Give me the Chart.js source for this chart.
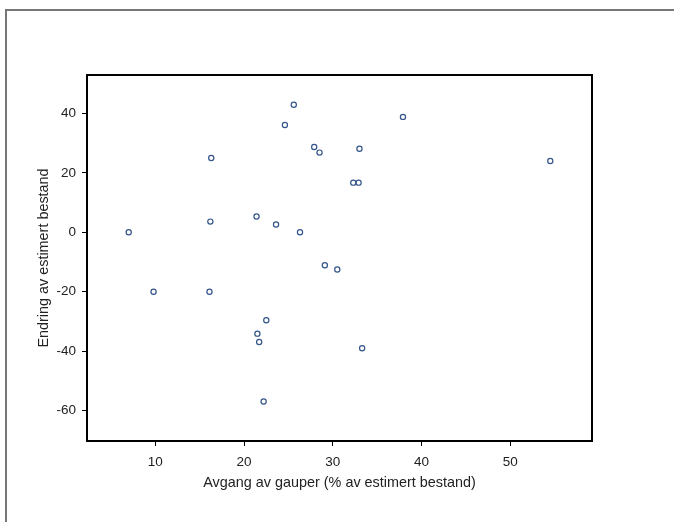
<!DOCTYPE html>
<html>
<head>
<meta charset="utf-8">
<script src="https://cdn.jsdelivr.net/npm/chart.js@4/dist/chart.umd.min.js"></script>
<style>
  html, body { margin: 0; padding: 0; background: #fff; }
  #wrap { width: 674px; height: 522px; }
</style>
</head>
<body>
<div id="wrap"><canvas id="myChart" width="674" height="522"></canvas></div>
<script>
// Avgang av gauper (% av estimert bestand) vs endring av estimert bestand
const avgang = [7.0, 9.8, 16.1, 16.2, 16.3, 21.4, 21.5, 21.7, 22.2, 22.5, 23.6, 24.6, 25.6, 26.3, 27.9, 28.5, 29.1, 30.5, 32.3, 32.9, 33.0, 33.3, 37.9, 54.5];
const endring = [0.0, -20.0, -20.0, 3.6, 25.0, 5.3, -34.1, -36.9, -56.9, -29.6, 2.6, 36.1, 42.9, 0.0, 28.7, 26.8, -11.1, -12.5, 16.7, 16.7, 28.1, -39.0, 38.8, 24.0];
const xTicks = [10, 20, 30, 40, 50];
const yTicks = [-60, -40, -20, 0, 20, 40];

const points = avgang.map((v, i) => ({x: v, y: endring[i]}));

// grey frame round the page and black box round the plot
const frames = {
    id: 'frames',
    beforeDraw(chart) {
        const ctx = chart.ctx;
        ctx.save();
        ctx.strokeStyle = '#777';
        ctx.lineWidth = 2;
        ctx.beginPath();
        ctx.moveTo(674, 10);
        ctx.lineTo(6, 10);
        ctx.lineTo(6, 522);
        ctx.stroke();
        ctx.restore();
    },
    afterDraw(chart) {
        const a = chart.chartArea;
        const ctx = chart.ctx;
        ctx.save();
        ctx.strokeStyle = '#000';
        ctx.lineWidth = 2;
        ctx.strokeRect(a.left, a.top, a.right - a.left, a.bottom - a.top);
        ctx.restore();
    }
};

const tickFont = {family: '"Liberation Sans", Arial, sans-serif', size: 13.5};
const titleFont = {family: '"Liberation Sans", Arial, sans-serif', size: 14.4};

new Chart(document.getElementById('myChart'), {
    type: 'scatter',
    data: {
        datasets: [{
            data: points,
            pointRadius: 2.6,
            pointHoverRadius: 2.6,
            pointBorderWidth: 1.2,
            borderColor: '#34548a',
            backgroundColor: 'rgba(255,255,255,0)'
        }]
    },
    plugins: [frames],
    options: {
        responsive: false,
        animation: false,
        events: [],
        layout: {padding: {top: 75, right: 82, bottom: 0, left: 0}},
        plugins: {legend: {display: false}, tooltip: {enabled: false}},
        scales: {
            x: {
                type: 'linear',
                min: 2.3,
                max: 59.2,
                afterBuildTicks: s => { s.ticks = xTicks.map(v => ({value: v})); },
                afterFit: s => { s.height = 81; },
                border: {display: false},
                grid: {drawOnChartArea: false, drawTicks: true, tickLength: 5, color: '#000', lineWidth: 1},
                ticks: {font: tickFont, color: '#222', padding: 8, maxRotation: 0},
                title: {display: true, text: 'Avgang av gauper (% av estimert bestand)', font: titleFont, color: '#222', padding: {top: 4, bottom: 30}}
            },
            y: {
                type: 'linear',
                min: -70.2,
                max: 52.9,
                afterBuildTicks: s => { s.ticks = yTicks.map(v => ({value: v})); },
                afterFit: s => { s.width = 87; },
                border: {display: false},
                grid: {drawOnChartArea: false, drawTicks: true, tickLength: 5, color: '#000', lineWidth: 1},
                ticks: {font: tickFont, color: '#222', padding: 6},
                title: {display: true, text: 'Endring av estimert bestand', font: titleFont, color: '#222', padding: {top: 35, bottom: 0}}
            }
        }
    }
});
</script>
</body>
</html>
